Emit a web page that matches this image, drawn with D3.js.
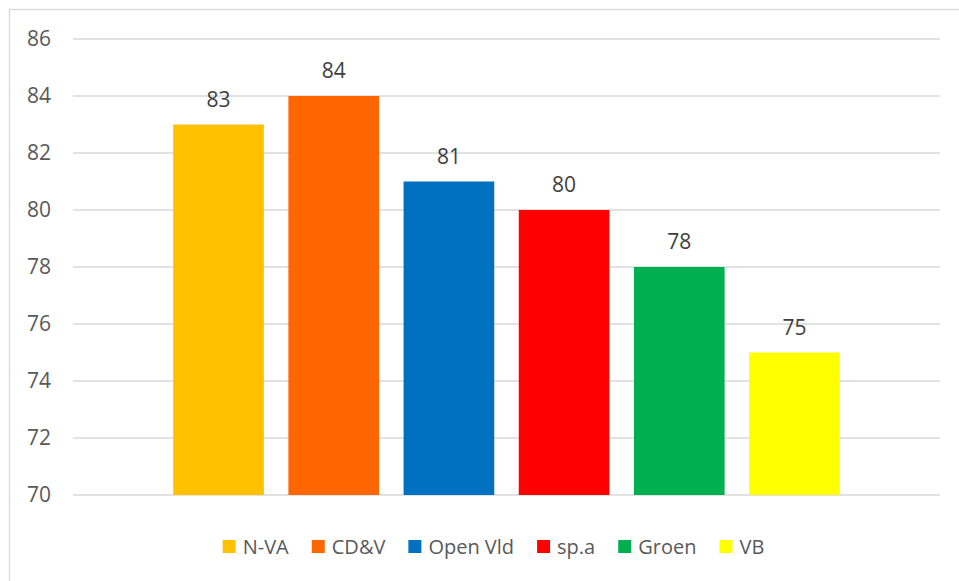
<!DOCTYPE html>
<html>
<head>
<meta charset="utf-8">
<script src="https://cdn.jsdelivr.net/npm/d3@7"></script>
<style>
  body { margin: 0; background: #fff; }
  svg { display: block; }
</style>
</head>
<body>
<div id="chart"></div>
<script>
// Party scores
const parties = ["N-VA", "CD&V", "Open Vld", "sp.a", "Groen", "VB"];
const scores = [83, 84, 81, 80, 78, 75];
const partyColors = ["#FFC000", "#FF6600", "#0070C0", "#FF0000", "#00B050", "#FFFF00"];
const yTicks = [70, 72, 74, 76, 78, 80, 82, 84, 86];

const data = parties.map((p, i) => ({ party: p, value: scores[i], color: partyColors[i] }));

const svgWidth = 959, svgHeight = 581;
const fontFamily = "'Open Sans', 'Segoe UI', sans-serif";
const textColor = "#595959";

const svg = d3.select("#chart")
    .append("svg")
    .attr("width", svgWidth)
    .attr("height", svgHeight);

// Chart area border (extends past the right and bottom edges)
svg.append("rect")
    .attr("x", 9.5)
    .attr("y", 9.5)
    .attr("width", svgWidth + 20)
    .attr("height", svgHeight + 20)
    .attr("fill", "#fff")
    .attr("stroke", "#d9d9d9")
    .attr("stroke-width", 1.3);

const plotLeft = 73, plotRight = 940;

const x = d3.scaleBand()
    .domain(parties)
    .range([plotLeft, plotRight])
    .paddingInner(0.213)
    .paddingOuter(0.87);

const y = d3.scaleLinear()
    .domain([70, 86])
    .range([495, 39]);

// Gridlines
svg.append("g")
    .selectAll("line")
    .data(yTicks)
    .enter()
    .append("line")
    .attr("x1", plotLeft)
    .attr("x2", plotRight)
    .attr("y1", d => y(d))
    .attr("y2", d => y(d))
    .attr("stroke", "#d9d9d9")
    .attr("stroke-width", 1.3);

// Y axis labels
const yAxis = d3.axisLeft(y).tickValues(yTicks).tickSize(0).tickPadding(0);
const yAxisGroup = svg.append("g")
    .attr("transform", `translate(51,0)`)
    .call(yAxis);
yAxisGroup.select(".domain").remove();
yAxisGroup.selectAll("text")
    .attr("font-size", "21px")
    .attr("font-family", fontFamily)
    .attr("fill", textColor);

// Bars
svg.append("g")
    .selectAll("rect")
    .data(data)
    .enter()
    .append("rect")
    .attr("x", d => x(d.party))
    .attr("y", d => y(d.value))
    .attr("width", x.bandwidth())
    .attr("height", d => y(70) - y(d.value))
    .attr("fill", d => d.color);

// Value labels
svg.append("g")
    .selectAll("text")
    .data(data)
    .enter()
    .append("text")
    .attr("x", d => x(d.party) + x.bandwidth() / 2)
    .attr("y", d => y(d.value) - 18)
    .attr("text-anchor", "middle")
    .attr("font-size", "21px")
    .attr("font-family", fontFamily)
    .attr("fill", "#404040")
    .text(d => d.value);

// Legend
const legend = svg.append("g");
let lx = 0;
const items = legend.selectAll("g")
    .data(data)
    .enter()
    .append("g");
items.append("rect")
    .attr("width", 13)
    .attr("height", 13)
    .attr("y", -6.5)
    .attr("fill", d => d.color);
items.append("text")
    .attr("x", 20)
    .attr("dy", "0.35em")
    .attr("font-size", "20px")
    .attr("font-family", fontFamily)
    .attr("fill", textColor)
    .text(d => d.party);
items.each(function() {
    const g = d3.select(this);
    g.attr("transform", `translate(${lx},0)`);
    lx += 20 + g.select("text").node().getComputedTextLength() + 23;
});
const legendWidth = lx - 23;
// legend sits slightly left of the plot centre, as in the original
legend.attr("transform", `translate(${(plotLeft + plotRight) / 2 - 13 - legendWidth / 2},546.5)`);
</script>
</body>
</html>
